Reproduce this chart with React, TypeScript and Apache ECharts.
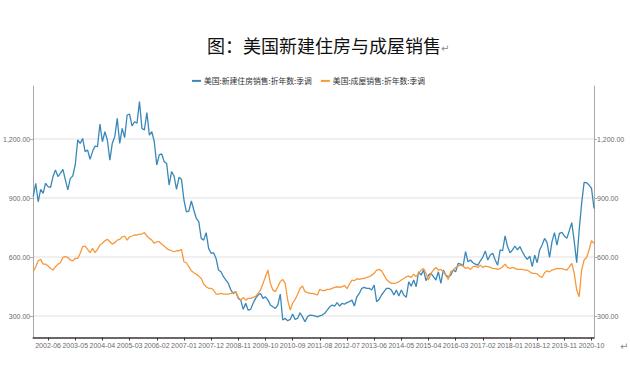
import React, { useEffect, useRef } from 'react';
import * as echarts from 'echarts';

// Monthly categories, 2001-12 .. 2020-11
const START_YEAR = 2001;
const START_MONTH = 12;
const N_MONTHS = 228;
const months: string[] = [];
for (let k = 0; k < N_MONTHS; k++) {
  const m = START_MONTH - 1 + k;
  const y = START_YEAR + Math.floor(m / 12);
  const mm = (m % 12) + 1;
  months.push(`${y}-${String(mm).padStart(2, '0')}`);
}

const seriesNames = ['美国:新建住房销售:折年数:季调', '美国:成屋销售:折年数:季调'];

const newHomeSales: number[] = [
  907, 975, 881, 944, 924, 975, 958, 954, 1009, 1042,
  1009, 1025, 1046, 992, 941, 1000, 1012, 1068, 1195, 1178,
  1203, 1136, 1144, 1097, 1136, 1164, 1161, 1276, 1186, 1237,
  1195, 1093, 1178, 1212, 1305, 1178, 1254, 1207, 1322, 1327,
  1266, 1288, 1280, 1390, 1254, 1246, 1334, 1220, 1237, 1186,
  1068, 1119, 1124, 1085, 1076, 966, 1034, 1012, 944, 1005,
  995, 890, 830, 834, 885, 839, 797, 780, 695, 686,
  724, 644, 619, 622, 593, 534, 525, 500, 483, 466,
  432, 415, 424, 390, 381, 334, 365, 330, 334, 365,
  390, 407, 415, 390, 398, 381, 356, 347, 339, 356,
  412, 280, 288, 276, 283, 310, 283, 288, 317, 296,
  271, 296, 305, 303, 301, 296, 301, 305, 314,
  330, 347, 356, 351, 368, 351, 364, 361, 368, 373,
  381, 351, 398, 415, 441, 446, 441, 441, 432, 458,
  373, 385, 407, 424, 441, 441, 432, 407, 432, 402,
  432, 407, 395, 474, 452, 483, 449, 525, 508, 534,
  480, 508, 517, 500, 483, 525, 466, 534, 508, 500,
  508, 534, 525, 568, 564, 554, 627, 576, 585,
  571, 564, 559, 581, 600, 631, 585, 610, 619, 585,
  559, 636, 632, 708, 653, 622, 636, 656, 636, 653,
  627, 605, 588, 605, 551, 610, 571, 636, 661, 695,
  673, 598, 678, 724, 661, 720, 725, 707, 695, 734,
  775, 680, 571, 737, 873, 980, 978, 966, 949, 847,
];

const existingHomeSales: number[] = [
  525, 551, 581, 588, 564, 564, 554, 542, 534, 551,
  564, 571, 598, 602, 598, 585, 581, 593, 593, 619,
  653, 656, 639, 622, 644, 622, 639, 661, 670, 683,
  690, 678, 666, 673, 686, 690, 703, 707, 686, 703,
  707, 712, 712, 717, 717, 724, 707, 695, 686, 670,
  678, 678, 666, 656, 644, 636, 632, 627, 632, 632,
  639, 576, 571, 551, 530, 520, 513, 503, 491, 463,
  449, 441, 441, 432, 412, 412, 415, 412, 412, 412,
  415, 419, 424, 395, 381, 395, 381, 390, 390, 395,
  400, 415, 432, 466, 500, 534, 466, 432, 424, 449,
  475, 486, 466, 381, 331, 365, 385, 410, 440, 453,
  424, 419, 415, 415, 412, 407, 436, 429, 429,
  436, 436, 441, 446, 449, 446, 449, 456, 439, 463,
  483, 480, 490, 486, 490, 491, 497, 500, 508, 517,
  534, 537, 530, 508, 486, 474, 466, 466, 469, 474,
  483, 491, 500, 503, 497, 513, 500, 517, 534, 542,
  517, 483, 517, 534, 547, 534, 537, 525, 508, 486,
  525, 534, 547, 554, 559, 554, 542, 547, 537,
  551, 554, 547, 559, 547, 554, 551, 547, 542, 541,
  537, 541, 551, 564, 547, 542, 547, 542, 537, 537,
  537, 534, 534, 525, 517, 517, 514, 503, 497, 520,
  530, 525, 534, 537, 542, 541, 541, 537, 534, 550,
  568, 517, 432, 398, 534, 585, 598, 636, 683, 670,
];

const yTicks = [300, 600, 900, 1200];
const Y_MIN = 191;
const Y_MAX = 1469.5;
const LABEL_OFFSET = 6;
const LABEL_STEP = 11;

const colors = ['#3a88b8', '#f7993a'];
const narrowFont = "'Liberation Sans Narrow', 'Arial Narrow', 'Liberation Sans', sans-serif";
const cjkFont = "'Noto Sans CJK SC', sans-serif";

const showCat = (index: number) => index >= LABEL_OFFSET && (index - LABEL_OFFSET) % LABEL_STEP === 0;
const fmt = (v: number) => v.toLocaleString('en-US', { minimumFractionDigits: 2, maximumFractionDigits: 2 });

const makeYAxis = (position: 'left' | 'right') => ({
  type: 'value',
  position,
  min: Y_MIN,
  max: Y_MAX,
  axisLine: { show: true, lineStyle: { color: '#a8a8a8', width: 1 } },
  axisTick: { show: true, length: 3, customValues: yTicks, lineStyle: { color: '#a8a8a8' } },
  axisLabel: {
    customValues: yTicks,
    formatter: (v: number) => fmt(v),
    fontSize: 7,
    color: '#6b6b6b',
    margin: 3,
    fontFamily: narrowFont,
  },
  splitLine: { show: position === 'left', lineStyle: { color: '#ebebeb', width: 1.5 } },
});

export default function App() {
  const ref = useRef<HTMLDivElement>(null);
  useEffect(() => {
    document.body.style.margin = '0';
    if (!ref.current) return;
    const chart = echarts.init(ref.current, null, { renderer: 'svg' });
    chart.setOption({
      animation: false,
      title: {
        text: '图：美国新建住房与成屋销售{m|↵}',
        left: 202,
        top: 31,
        textStyle: {
          fontSize: 18,
          fontWeight: 'normal',
          color: '#111',
          fontFamily: cjkFont,
          rich: { m: { fontSize: 10, color: '#8a8a8a', fontFamily: 'DejaVu Sans', verticalAlign: 'bottom' } },
        },
      },
      legend: {
        top: 72,
        left: 187,
        icon: 'rect',
        itemWidth: 9,
        itemHeight: 2,
        itemGap: 9,
        textStyle: { fontSize: 7.8, color: '#333', fontFamily: cjkFont, padding: [0, 0, 0, -2] },
        data: seriesNames,
      },
      grid: { left: 32, right: 36, top: 86, bottom: 42.5, containLabel: false },
      xAxis: {
        type: 'category',
        data: months,
        boundaryGap: false,
        axisLine: { show: true, lineStyle: { color: '#3d3434', width: 1.5 } },
        axisTick: { show: true, interval: (i: number) => showCat(i), length: 3, lineStyle: { color: '#3d3434' } },
        axisLabel: {
          interval: (i: number) => showCat(i),
          fontSize: 7,
          color: '#6b6b6b',
          margin: 4,
          fontFamily: narrowFont,
        },
        splitLine: { show: false },
      },
      yAxis: [makeYAxis('left'), makeYAxis('right')],
      series: [
        {
          name: seriesNames[0],
          type: 'line',
          data: newHomeSales,
          yAxisIndex: 0,
          showSymbol: false,
          symbol: 'none',
          lineStyle: { width: 1.3, color: colors[0] },
          itemStyle: { color: colors[0] },
        },
        {
          name: seriesNames[1],
          type: 'line',
          data: existingHomeSales,
          yAxisIndex: 0,
          showSymbol: false,
          symbol: 'none',
          lineStyle: { width: 1.3, color: colors[1] },
          itemStyle: { color: colors[1] },
        },
      ],
      graphic: [
        {
          type: 'text',
          left: 620,
          top: 341,
          style: { text: '↵', fontSize: 10, fill: '#8a8a8a', fontFamily: 'DejaVu Sans' },
        },
      ],
    });
    return () => chart.dispose();
  }, []);
  return <div ref={ref} style={{ width: 630, height: 380 }} />;
}
